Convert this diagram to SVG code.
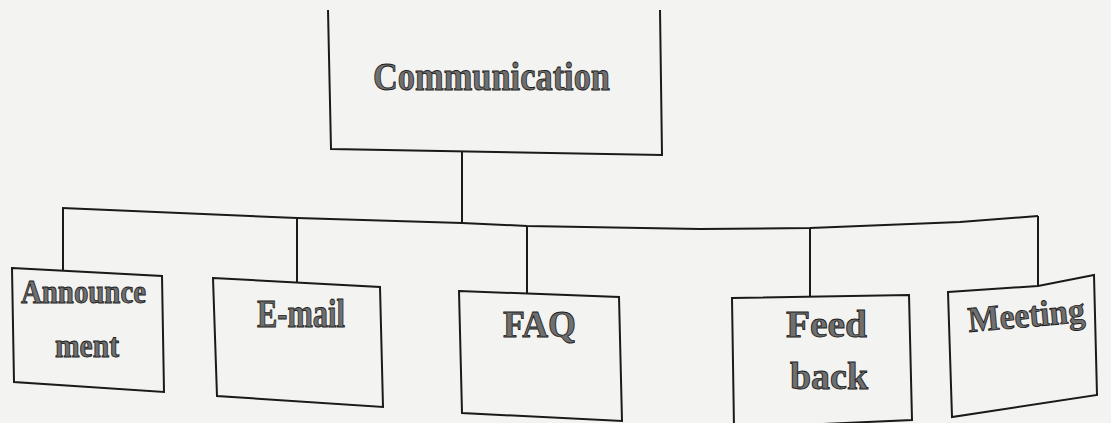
<svg xmlns="http://www.w3.org/2000/svg" width="1111" height="423" viewBox="0 0 1111 423">
  <style>
    .box { fill: none; stroke: #1a1a1a; stroke-width: 2; stroke-linejoin: miter; }
    .wire { fill: none; stroke: #1a1a1a; stroke-width: 2; }
    .lbl { font-family: "Liberation Serif", "Times New Roman", serif; font-weight: bold; fill: #6f6f6f; stroke: #1c1c1c; stroke-width: 0.9; }
  </style>
  <rect width="1111" height="423" fill="#f3f3f1"/>

  <!-- root node (top edge not printed) -->
  <g id="communication">
    <path class="box" d="M328,10 L331,149 L662,155 L660,10"/>
    <text class="lbl" x="373" y="90" font-size="41" textLength="237" lengthAdjust="spacingAndGlyphs">Communication</text>
  </g>

  <!-- tree connectors -->
  <g id="connectors">
    <path class="wire" d="M462,151 L462,223"/>
    <path class="wire" d="M62,208 L297,218 L462,223 L527,226 L700,229 L810,228 L960,222 L1038,216"/>
    <path class="wire" d="M63,208 L63,271"/>
    <path class="wire" d="M297,218 L297,283"/>
    <path class="wire" d="M527,226 L527,294"/>
    <path class="wire" d="M810,228 L810,297"/>
    <path class="wire" d="M1038,216 L1038,286"/>
  </g>

  <g id="announcement">
    <polygon class="box" points="12,268 162,276 164,392 14,382"/>
    <text class="lbl" x="21" y="303" font-size="33" textLength="125" lengthAdjust="spacingAndGlyphs">Announce</text>
    <text class="lbl" x="55" y="357" font-size="33" textLength="64" lengthAdjust="spacingAndGlyphs">ment</text>
  </g>

  <g id="email">
    <polygon class="box" points="213,278 380,287 383,407 217,396"/>
    <text class="lbl" x="257" y="327" font-size="39" textLength="88" lengthAdjust="spacingAndGlyphs">E-mail</text>
  </g>

  <g id="faq">
    <polygon class="box" points="459,291 619,297 622,421 462,413"/>
    <text class="lbl" x="503" y="337" font-size="38" textLength="73" lengthAdjust="spacingAndGlyphs">FAQ</text>
  </g>

  <g id="feedback">
    <polygon class="box" points="732,298 909,295 912,420 734,428"/>
    <text class="lbl" x="786" y="337" font-size="38" textLength="81" lengthAdjust="spacingAndGlyphs">Feed</text>
    <text class="lbl" x="790" y="389" font-size="38" textLength="78" lengthAdjust="spacingAndGlyphs">back</text>
  </g>

  <g id="meeting">
    <polygon class="box" points="948,292 1038,286 1094,275 1097,395 952,417"/>
    <text class="lbl" x="969" y="332" font-size="36" textLength="117" lengthAdjust="spacingAndGlyphs" transform="rotate(-5 969 332)">Meeting</text>
  </g>
</svg>
